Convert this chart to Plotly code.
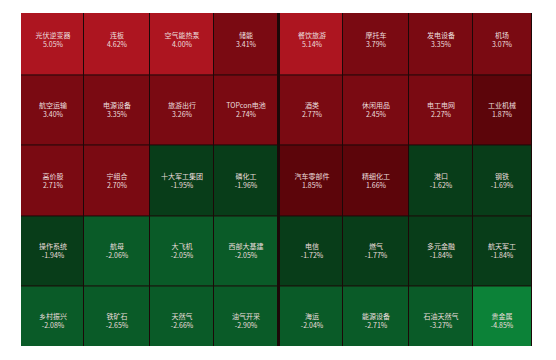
import plotly.graph_objects as go

# ---- data (rows top->bottom, columns left->right; left block 4 cols, right block 4 cols)
row1_names = ["光伏逆变器", "连板", "空气能热泵", "储能", "餐饮旅游", "摩托车", "发电设备", "机场"]
row1_vals = [5.05, 4.62, 4.00, 3.41, 5.14, 3.79, 3.35, 3.07]
row2_names = ["航空运输", "电源设备", "旅游出行", "TOPcon电池", "酒类", "休闲用品", "电工电网", "工业机械"]
row2_vals = [3.40, 3.35, 3.26, 2.74, 2.77, 2.45, 2.27, 1.87]
row3_names = ["高价股", "宁组合", "十大军工集团", "磷化工", "汽车零部件", "精细化工", "港口", "钢铁"]
row3_vals = [2.71, 2.70, -1.95, -1.96, 1.85, 1.66, -1.62, -1.69]
row4_names = ["操作系统", "航母", "大飞机", "西部大基建", "电信", "燃气", "多元金融", "航天军工"]
row4_vals = [-1.94, -2.06, -2.05, -2.05, -1.72, -1.77, -1.84, -1.84]
row5_names = ["乡村振兴", "铁矿石", "天然气", "油气开采", "海运", "能源设备", "石油天然气", "贵金属"]
row5_vals = [-2.08, -2.65, -2.66, -2.90, -2.04, -2.71, -3.27, -4.85]

names = [row1_names, row2_names, row3_names, row4_names, row5_names]
vals = [row1_vals, row2_vals, row3_vals, row4_vals, row5_vals]

# ---- layout geometry (pixel-like units; top and bottom rows are cropped by the axis range)
x_edges = [21, 84, 149.7, 213.7, 278, 279.8, 343.3, 408.7, 472.7, 532]
y_edges = [5.7, 75.7, 145.7, 216.7, 286, 356]

z = []
text = []
for nm, vv in zip(names, vals):
    zr = vv[:4] + [None] + vv[4:]
    tr = [f"{n}<br>{v:.2f}%" for n, v in zip(nm, vv)]
    tr = tr[:4] + [""] + tr[4:]
    z.append(zr)
    text.append(tr)

zmin, zmax = -6, 6
def p(v):
    return (v - zmin) / (zmax - zmin)

c_bg = "#0c8238"   # <= -4
c_mg = "#0a5b28"   # -4..-2
c_dg = "#083d19"   # -2..0
c_dr = "#5c050a"   # 0..2
c_mr = "#7a0a12"   # 2..3.95
c_br = "#ad1520"   # >= 3.95
steps = [(zmin, c_bg), (-4, c_mg), (-2, c_dg), (0, c_dr), (2, c_mr), (3.95, c_br), (zmax, None)]
colorscale = []
for i in range(len(steps) - 1):
    a, col = steps[i]
    b = steps[i + 1][0]
    colorscale.append([p(a), col])
    colorscale.append([p(b), col])

fig = go.Figure(go.Heatmap(
    x=x_edges, y=y_edges, z=z, text=text,
    texttemplate="%{text}",
    textfont=dict(family="Noto Sans CJK SC", size=7, color="#ecdede"),
    colorscale=colorscale, zmin=zmin, zmax=zmax, showscale=False,
    xgap=1, ygap=1, hoverinfo="skip",
))

# the page body adds an 8px offset, compensated in the margins
fig.update_layout(
    width=556, height=360, autosize=False,
    margin=dict(l=13, r=32, t=5, b=22),
    paper_bgcolor="white", plot_bgcolor="#1c0808",
    xaxis=dict(range=[21, 532], visible=False, fixedrange=True),
    yaxis=dict(range=[346, 13.3], visible=False, fixedrange=True),
)

fig.write_html("out.html")
